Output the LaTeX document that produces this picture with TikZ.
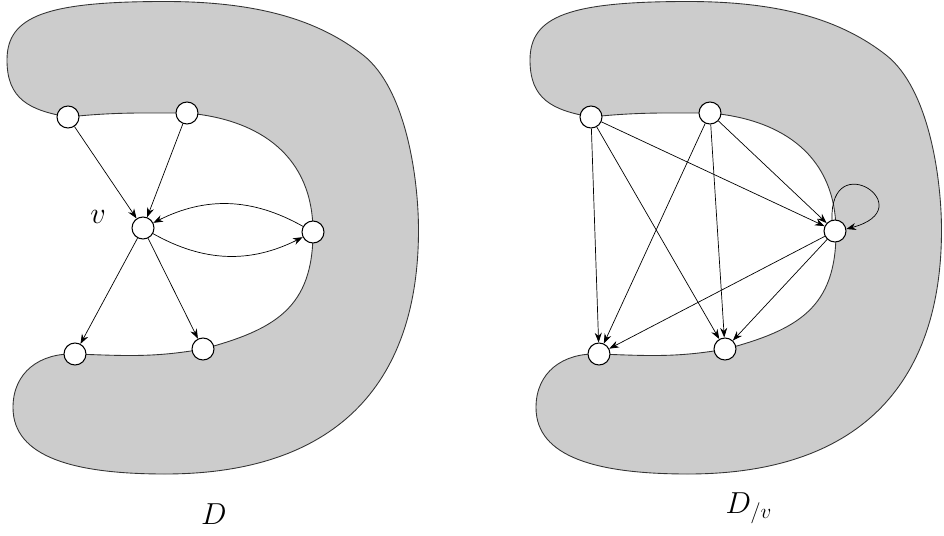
\documentclass[tikz,border=0pt]{standalone}
\usetikzlibrary{arrows.meta}
\tikzset{
  vtx/.style={circle,draw,fill=white,inner sep=0pt,minimum size=0.44cm,line width=0.6pt},
  darr/.style={-{Stealth[length=5.5pt,width=4pt]},line width=0.4pt},
  blob/.style={draw=black!80,fill=black!20,line width=0.5pt}
}
% outline of the shaded region D
\newcommand\dregion{(0.14,9.50) to[out=270,in=170,looseness=1.2] (1.36,8.36)
  to[out=6,in=180] (3.74,8.44)
  to[out=-5,in=90,looseness=1.1] (6.26,6.06)
  to[out=270,in=15,looseness=1.2] (4.06,3.72)
  to[out=190,in=-2] (1.50,3.62)
  to[out=178,in=90,looseness=1.1] (0.26,2.55)
  .. controls (0.26,1.55) and (1.50,1.22) .. (3.30,1.22)
  .. controls (6.65,1.22) and (8.37,2.95) .. (8.37,6.10)
  .. controls (8.37,7.10) and (8.13,8.92) .. (7.26,9.60)
  .. controls (6.39,10.28) and (5.20,10.67) .. (3.30,10.67)
  .. controls (0.93,10.67) and (0.14,10.38) .. (0.14,9.50) -- cycle}
\begin{document}
\begin{tikzpicture}
\useasboundingbox (0,0) rectangle (18.88,10.70);
\draw[blob] \dregion;
\draw[blob,xshift=10.46cm] \dregion;
% left: D
\node[vtx] (a) at (1.36,8.36) {};
\node[vtx] (b) at (3.74,8.44) {};
\node[vtx] (v) at (2.86,6.14) {};
\node[vtx] (r) at (6.26,6.06) {};
\node[vtx] (c) at (1.50,3.62) {};
\node[vtx] (e) at (4.06,3.72) {};
\node[font=\LARGE] (vlab) at (1.96,6.36) {$v$};
\draw[darr] (a) -- (v);
\draw[darr] (b) -- (v);
\draw[darr] (v) to[bend right=28] (r);
\draw[darr] (r) to[bend right=28] (v);
\draw[darr] (v) -- (c);
\draw[darr] (v) -- (e);
\node[font=\LARGE,anchor=base] (dlab) at (4.28,0.22) {$D$};
% right: D/v
\node[vtx] (a2) at (11.82,8.36) {};
\node[vtx] (b2) at (14.20,8.44) {};
\node[vtx] (r2) at (16.70,6.08) {};
\node[vtx] (c2) at (11.98,3.62) {};
\node[vtx] (e2) at (14.50,3.72) {};
\draw[darr] (a2) -- (c2);
\draw[darr] (a2) -- (e2);
\draw[darr] (a2) -- (r2);
\draw[darr] (b2) -- (c2);
\draw[darr] (b2) -- (e2);
\draw[darr] (b2) -- (r2);
\draw[darr] (r2) -- (c2);
\draw[darr] (r2) -- (e2);
\draw[darr] (r2.105) .. controls +(92:1.5cm) and +(15:1.6cm) .. (r2.10);
\node[font=\LARGE,anchor=base] (dvlab) at (14.98,0.44) {$D_{/v}$};
\end{tikzpicture}
\end{document}
